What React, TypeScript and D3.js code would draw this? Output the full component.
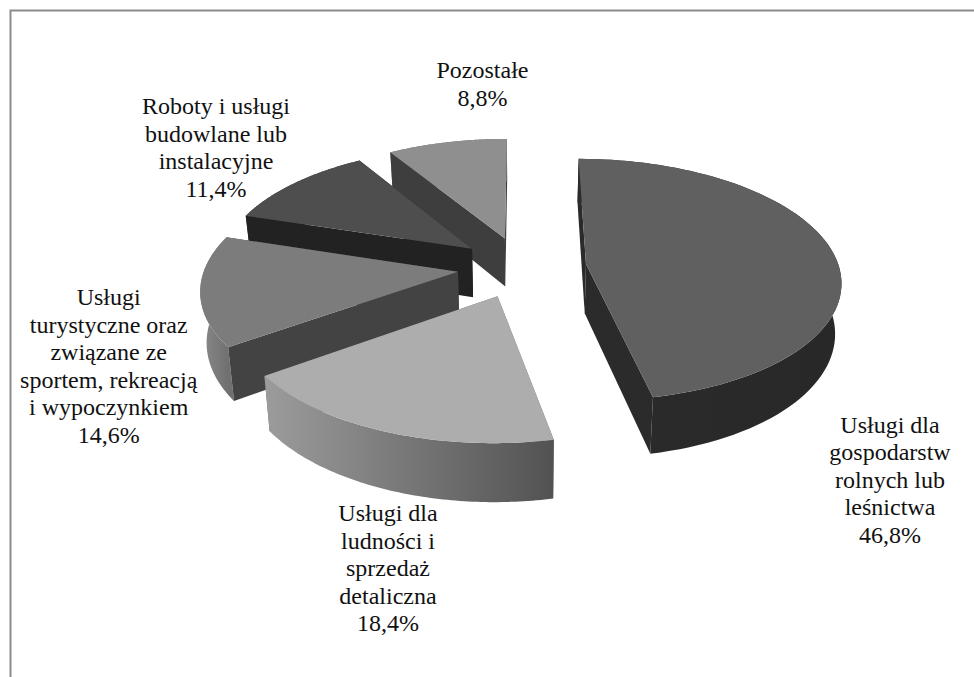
import React from "react";
import * as d3 from "d3";

// Udział poszczególnych rodzajów działalności (w %), w kolejności od godziny 12
const categoryLines: string[][] = [
  ["Usługi dla", "gospodarstw", "rolnych lub", "leśnictwa"],
  ["Usługi dla", "ludności i", "sprzedaż", "detaliczna"],
  ["Usługi", "turystyczne oraz", "związane ze", "sportem, rekreacją", "i wypoczynkiem"],
  ["Roboty i usługi", "budowlane lub", "instalacyjne"],
  ["Pozostałe"],
];
const shares = [46.8, 18.4, 14.6, 11.4, 8.8];

// Odcienie: wierzch, ściany boczne oraz gradient krawędzi (od lewej do prawej)
const topFills = ["#606060", "#adadad", "#7c7c7c", "#4e4e4e", "#8f8f8f"];
const wallFills = ["#2b2b2b", "#6a6a6a", "#434343", "#222222", "#3e3e3e"];
const rimFrom = ["#2b2b2b", "#9c9c9c", "#8a8a8a", "#3a3a3a", "#6a6a6a"];
const rimTo = ["#282828", "#525252", "#707070", "#3a3a3a", "#6a6a6a"];

// Pozycje podpisów: środek tekstu i linia bazowa pierwszego wiersza
const labelX = [890, 388, 108.7, 216, 482.5];
const labelY = [432.5, 521, 305, 114, 78.3];
const lineStep = 27.5;

const WIDTH = 974;
const HEIGHT = 677;

// Parametry rzutu perspektywicznego płaszczyzny koła na ekran
const cx = 522;
const cy = 267;
const Rx = 253;
const Ry = 119.5;
const k = 0.13;
const explode = 0.255;
const depth = 49.5;
const shrink = 0.02;

type Pt = [number, number];

function project(X: number, Y: number, lowered: boolean): Pt {
  const s = 1 / (1 + k * Y);
  const px = Rx * X * s;
  const py = -Ry * Y * s;
  if (!lowered) return [cx + px, cy + py];
  return [cx + px * (1 - shrink), cy + py + depth * s];
}

const toPath = d3.line<Pt>().curve(d3.curveLinear);

const pieLayout = d3.pie<number>().sort(null).startAngle(0).endAngle(2 * Math.PI);

function App() {
  const arcs = pieLayout(shares);

  const slices = arcs.map((arc, i) => {
    const mid = (arc.startAngle + arc.endAngle) / 2;
    const ox = explode * Math.sin(mid);
    const oy = explode * Math.cos(mid);
    const rimAngles = d3.range(0, 81).map((j) =>
      d3.interpolateNumber(arc.startAngle, arc.endAngle)(j / 80)
    );
    const rimPoints = (lowered: boolean): Pt[] =>
      rimAngles.map((a) => project(ox + Math.sin(a), oy + Math.cos(a), lowered));
    const apexTop = project(ox, oy, false);
    const apexLow = project(ox, oy, true);
    const upper = rimPoints(false);
    const lower = rimPoints(true);
    const last = upper.length - 1;
    return {
      i,
      top: toPath([apexTop, ...upper])! + "Z",
      rim: toPath([...upper, ...lower.slice().reverse()])! + "Z",
      wallStart: toPath([apexTop, upper[0], lower[0], apexLow])! + "Z",
      wallEnd: toPath([apexTop, upper[last], lower[last], apexLow])! + "Z",
      // Ściana zwrócona ku widzowi jest malowana po krawędzi łukowej
      startFront: Math.sin(arc.startAngle) < -1e-6,
      endFront: Math.sin(arc.endAngle) > 1e-6,
      xMin: d3.min(upper, (p) => p[0])!,
      xMax: d3.max(upper, (p) => p[0])!,
    };
  });

  // Malowanie od tyłu do przodu
  const paintOrder = [4, 3, 2, 1, 0];

  return (
    <svg
      width={WIDTH}
      height={HEIGHT}
      style={{ position: "absolute", left: 0, top: 0, background: "#ffffff" }}
    >
      <defs>
        {slices.map((s) => (
          <linearGradient
            key={s.i}
            id={`rim-${s.i}`}
            gradientUnits="userSpaceOnUse"
            x1={s.xMin}
            x2={s.xMax}
            y1={0}
            y2={0}
          >
            <stop offset="0" stopColor={rimFrom[s.i]} />
            <stop offset="1" stopColor={rimTo[s.i]} />
          </linearGradient>
        ))}
      </defs>

      <path d="M10.5,677V10.5H974" fill="none" stroke="#8c8c8c" strokeWidth={2} />

      {paintOrder.map((idx) => {
        const s = slices[idx];
        return (
          <g key={idx}>
            {!s.startFront && <path d={s.wallStart} fill={wallFills[idx]} />}
            {!s.endFront && <path d={s.wallEnd} fill={wallFills[idx]} />}
            <path d={s.rim} fill={`url(#rim-${idx})`} />
            {s.startFront && <path d={s.wallStart} fill={wallFills[idx]} />}
            {s.endFront && <path d={s.wallEnd} fill={wallFills[idx]} />}
            <path d={s.top} fill={topFills[idx]} />
          </g>
        );
      })}

      <g fontFamily="'Liberation Serif', serif" fontSize={24} fill="#111111" textAnchor="middle">
        {categoryLines.map((lines, i) => (
          <text key={i} x={labelX[i]} y={labelY[i]}>
            {[...lines, `${shares[i].toFixed(1).replace(".", ",")}%`].map((line, j) => (
              <tspan key={j} x={labelX[i]} y={labelY[i] + j * lineStep}>
                {line}
              </tspan>
            ))}
          </text>
        ))}
      </g>
    </svg>
  );
}

export default App;
